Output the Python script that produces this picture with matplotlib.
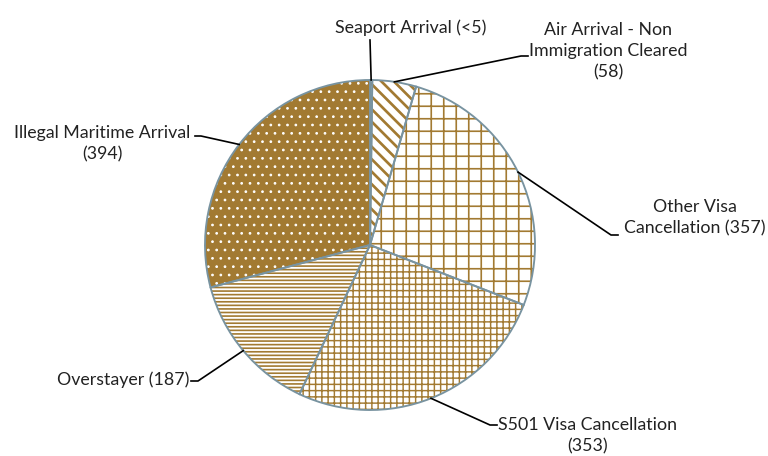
import numpy as np
import matplotlib
matplotlib.use("Agg")
import matplotlib.pyplot as plt
from matplotlib.patches import Wedge

# data (clockwise from 12 o'clock)
categories = ["Seaport Arrival (<5)",
              "Air Arrival - Non\nImmigration Cleared\n(58)",
              "Other Visa\nCancellation (357)",
              "S501 Visa Cancellation\n(353)",
              "Overstayer (187)",
              "Illegal Maritime Arrival\n(394)"]
values = [3, 58, 357, 353, 187, 394]

BROWN = "#A27A32"
face_colors = ["white", "white", "white", "white", "white", BROWN]
hatch_colors = [BROWN, BROWN, BROWN, BROWN, BROWN, "white"]
hatches = ["\\\\\\\\", "\\\\\\\\", "++", "++++", "-------", "..."]
hatch_lw = [1.3, 1.3, 0.8, 0.7, 0.8, 0.5]

# label placement (pixel coords, y from top): text anchor, elbow, end of leader
label_xy = [(411, 28), (608, 51), (695, 218), (498, 436), (189, 380), (102, 144)]
label_ha = ["center", "center", "center", "left", "right", "center"]
elbows = [None, (521, 56), (611, 235), (490, 425), (198, 381), (201, 136)]
ends = [(370, 40), (528, 56), (618, 235), (497, 425), (191, 381), (195, 136)]

W, H = 768, 456
plt.rcParams['font.family'] = ['Lato', 'DejaVu Sans']
plt.rcParams['hatch.linewidth'] = 0.8

fig = plt.figure(figsize=(W / 150, H / 150), dpi=150)
ax = fig.add_axes([0, 0, 1, 1])

cx, cy, r = 370, H - 245, 165
wedges, _ = ax.pie(values, colors=face_colors, startangle=90, counterclock=False,
                   center=(cx, cy), radius=r,
                   wedgeprops=dict(linewidth=0))

# hatching overlay, then edges
for w, hc, h, hl in zip(wedges, hatch_colors, hatches, hatch_lw):
    p = Wedge(w.center, w.r, w.theta1, w.theta2, facecolor="none",
              edgecolor=hc, hatch=h, linewidth=0, zorder=2)
    try:
        p.set_hatch_linewidth(hl)
    except AttributeError:
        pass
    ax.add_patch(p)
for w in wedges:
    ax.add_patch(Wedge(w.center, w.r, w.theta1, w.theta2, facecolor="none",
                       edgecolor="#7893a0", linewidth=0.9, zorder=3))

# leader lines + labels
for w, txt, (lx, ly), ha, el, en in zip(wedges, categories, label_xy, label_ha, elbows, ends):
    mid = np.deg2rad((w.theta1 + w.theta2) / 2)
    sx, sy = cx + r * np.cos(mid), cy + r * np.sin(mid)
    pts = [(sx, sy)]
    if el is not None:
        pts.append((el[0], H - el[1]))
    pts.append((en[0], H - en[1]))
    xs, ys = zip(*pts)
    ax.plot(xs, ys, color="black", lw=0.8, zorder=4)
    ax.text(lx, H - ly, txt, ha=ha, va="center", fontsize=8.5, color="#222222",
            multialignment="center", linespacing=1.4)

ax.set_xlim(0, W)
ax.set_ylim(0, H)
ax.set_aspect("equal")
ax.axis("off")

fig.savefig("out.png", dpi=150)
